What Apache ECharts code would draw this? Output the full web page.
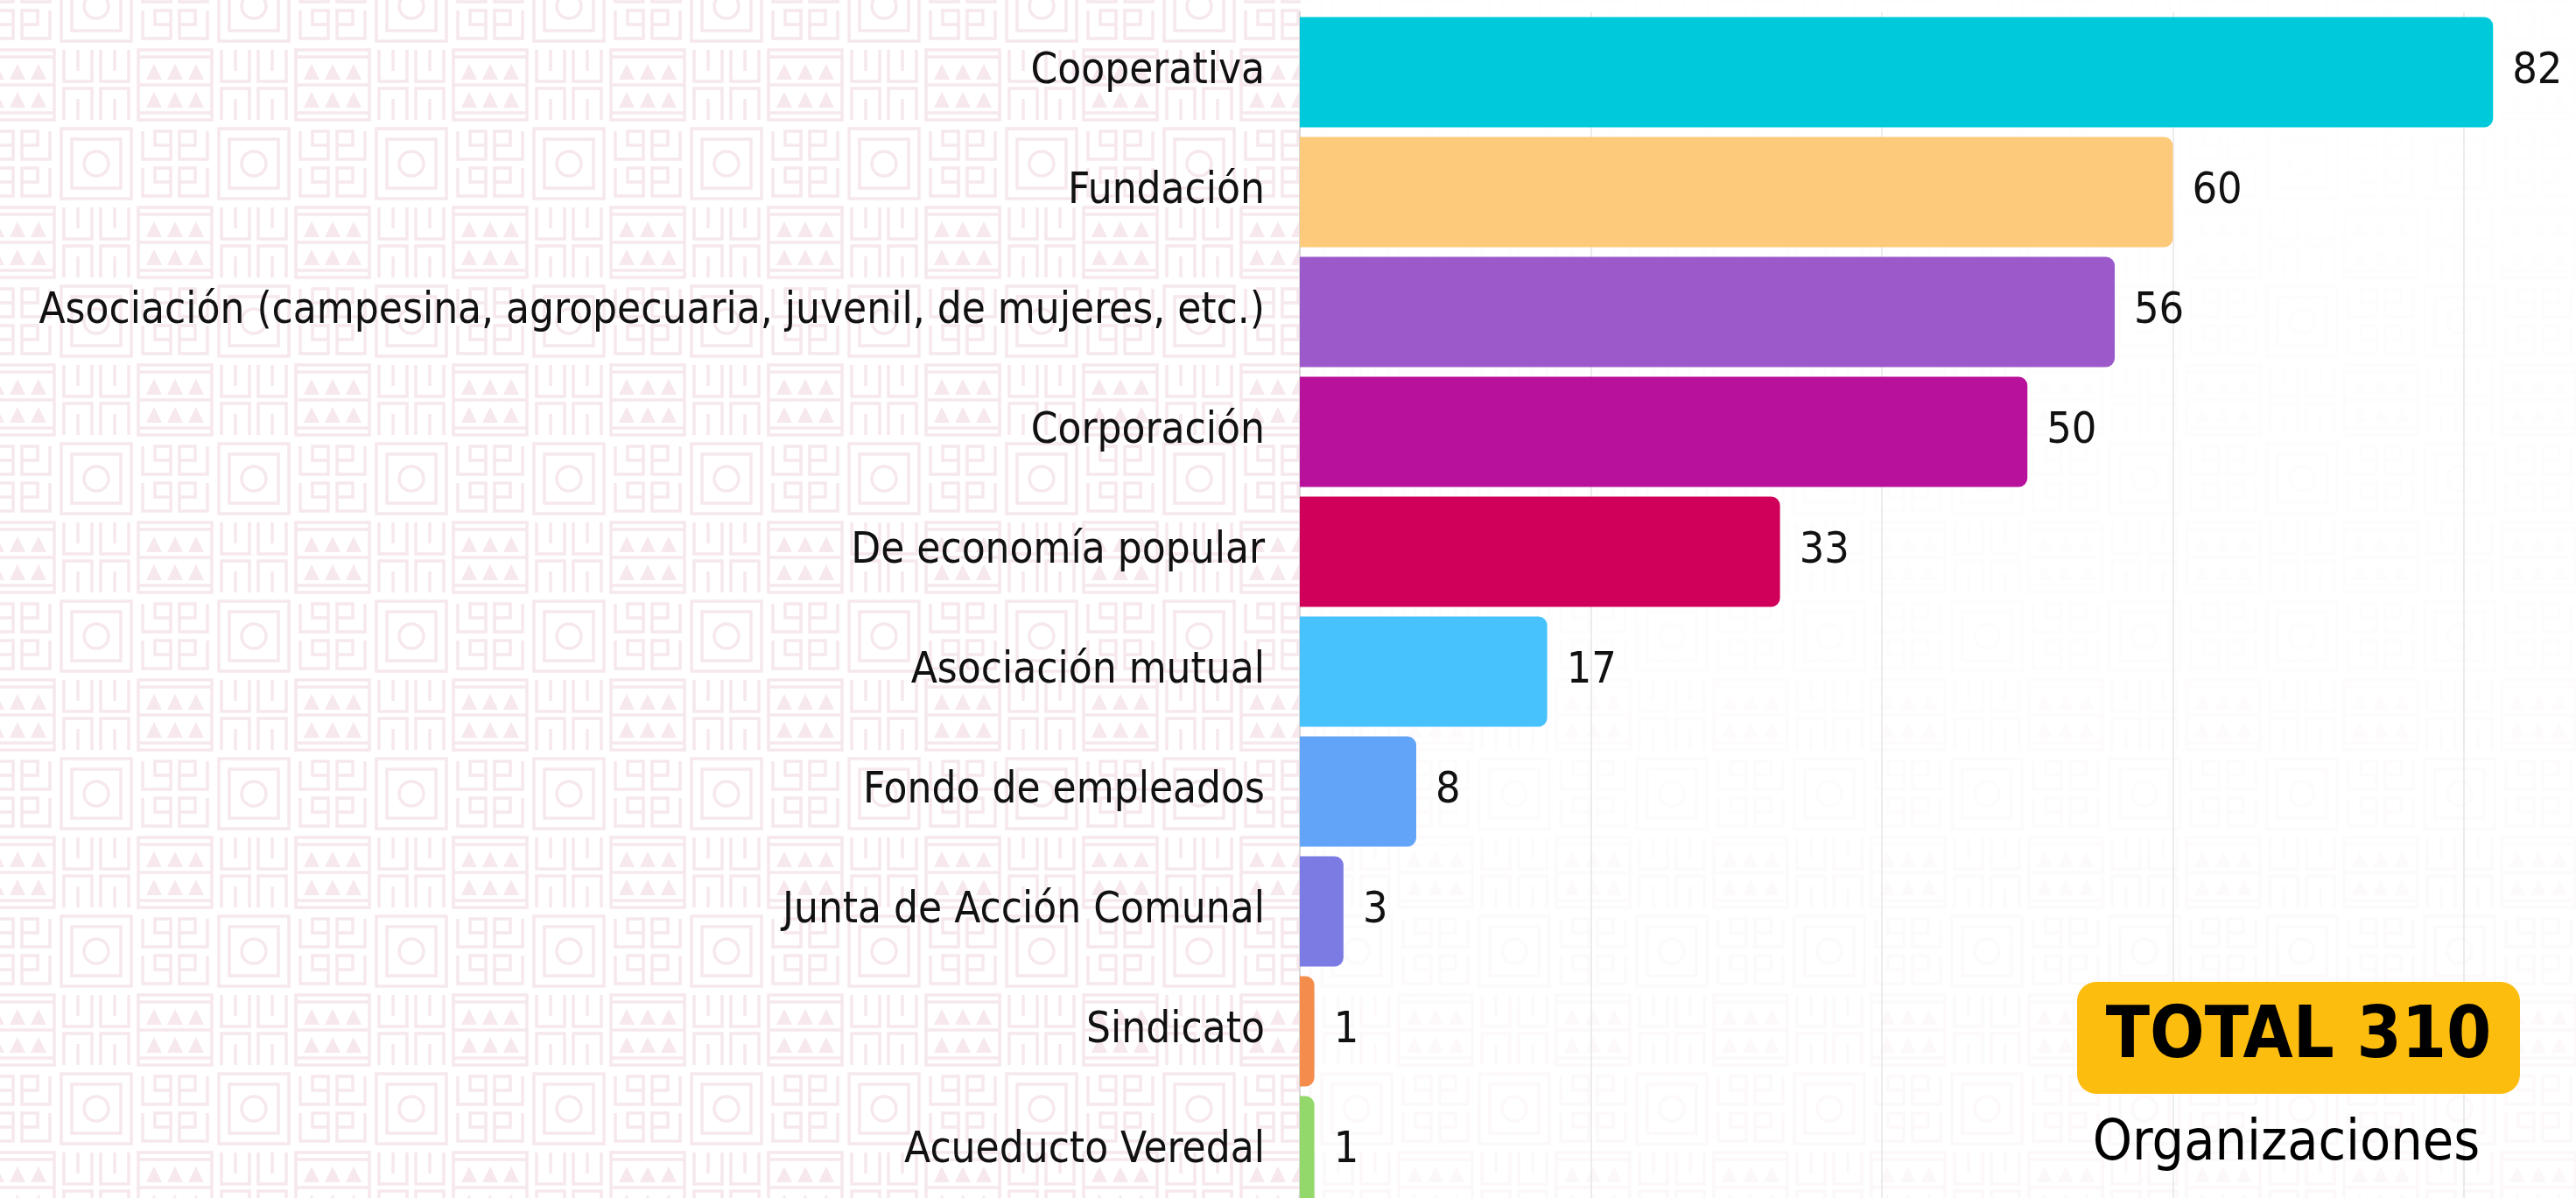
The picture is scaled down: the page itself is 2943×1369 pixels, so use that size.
<!DOCTYPE html>
<html>
<head>
<meta charset="utf-8">
<title>Organizaciones por tipo</title>
<script src="https://cdn.jsdelivr.net/npm/echarts@6/dist/echarts.min.js"></script>
<style>
  html, body { margin: 0; padding: 0; background: #fff; }
  #chart { width: 2943px; height: 1369px; }
</style>
</head>
<body>
<div id="chart"></div>
<script>
var categories = [
  "Cooperativa",
  "Fundación",
  "Asociación (campesina, agropecuaria, juvenil, de mujeres, etc.)",
  "Corporación",
  "De economía popular",
  "Asociación mutual",
  "Fondo de empleados",
  "Junta de Acción Comunal",
  "Sindicato",
  "Acueducto Veredal"
];
var values = [82, 60, 56, 50, 33, 17, 8, 3, 1, 1];
var barColors = [
  "#00c9db", "#fdca7b", "#9b59c9", "#b8119b", "#d0005a",
  "#48c2fc", "#62a4f7", "#7b7be3", "#f48c4c", "#92d86a"
];
var totalText = "TOTAL 310";
var totalCaption = "Organizaciones";

var FONT = "'DejaVu Sans Condensed', 'DejaVu Sans', sans-serif";

// background tile: light pink geometric pattern
function makeTile() {
  var S = 180;
  var c = document.createElement("canvas");
  c.width = S; c.height = S;
  var g = c.getContext("2d");
  g.fillStyle = "#ffffff";
  g.fillRect(0, 0, S, S);
  g.strokeStyle = "#f6e8ed";
  g.fillStyle = "#f6e8ed";
  g.lineWidth = 3.5;

  function each(cx, cy, fn) {
    for (var dx = -S; dx <= S; dx += S) {
      for (var dy = -S; dy <= S; dy += S) fn(cx + dx, cy + dy);
    }
  }
  function line(pts) {
    g.beginPath();
    g.moveTo(pts[0][0], pts[0][1]);
    for (var i = 1; i < pts.length; i++) g.lineTo(pts[i][0], pts[i][1]);
    g.stroke();
  }

  // square with circle
  each(110, 7, function (x, y) {
    g.strokeRect(x - 40, y - 40, 80, 80);
    g.strokeRect(x - 28, y - 28, 56, 56);
    g.beginPath(); g.arc(x, y, 14, 0, Math.PI * 2); g.stroke();
  });
  // triangle block
  each(20, 97, function (x, y) {
    g.strokeRect(x - 42, y - 40, 84, 80);
    line([[x - 42, y - 32], [x + 42, y - 32]]);
    line([[x - 42, y], [x + 42, y]]);
    line([[x - 42, y + 32], [x + 42, y + 32]]);
    [-24, 0, 24].forEach(function (o) {
      g.beginPath();
      g.moveTo(x + o - 9, y - 6); g.lineTo(x + o, y - 24); g.lineTo(x + o + 9, y - 6);
      g.closePath(); g.fill();
      g.beginPath();
      g.moveTo(x + o - 9, y + 26); g.lineTo(x + o, y + 8); g.lineTo(x + o + 9, y + 26);
      g.closePath(); g.fill();
    });
  });
  // hooks
  each(20, 7, function (x, y) {
    [[-21, -21, 1], [21, -21, -1], [-21, 21, 1], [21, 21, -1]].forEach(function (h) {
      var hx = x + h[0], hy = y + h[1], d = h[2];
      line([[hx + 16 * d, hy], [hx - 2 * d, hy], [hx - 2 * d, hy - 16], [hx + 16 * d, hy - 16],
            [hx + 16 * d, hy + 16], [hx - 16 * d, hy + 16], [hx - 16 * d, hy - 16]]);
    });
  });
  // vertical u pairs
  each(110, 97, function (x, y) {
    [-21, 21].forEach(function (o) {
      var ux = x + o;
      line([[ux - 16, y - 40], [ux - 16, y - 4], [ux + 16, y - 4], [ux + 16, y - 40]]);
      line([[ux, y - 40], [ux, y - 16]]);
      line([[ux - 16, y + 40], [ux - 16, y + 4], [ux + 16, y + 4], [ux + 16, y + 40]]);
      line([[ux, y + 40], [ux, y + 16]]);
    });
  });
  return c;
}

var barData = values.map(function (v, i) {
  return { value: v, itemStyle: { color: barColors[i] } };
});

var chart = echarts.init(document.getElementById("chart"));
chart.setOption({
  backgroundColor: { image: makeTile(), repeat: "repeat" },
  animation: false,
  grid: {
    left: 1485,
    top: 14,
    width: 1463,
    height: 1370,
    outerBoundsMode: "none",
    containLabel: false
  },
  xAxis: {
    type: "value",
    min: 0,
    max: 88,
    interval: 20,
    axisLabel: { show: false },
    axisLine: { show: false },
    axisTick: { show: false },
    splitLine: { show: true, lineStyle: { color: "#e6e6e6", width: 1.5 } }
  },
  yAxis: {
    type: "category",
    inverse: true,
    data: categories,
    axisTick: { show: false },
    axisLine: { show: true, lineStyle: { color: "#d8d8d8", width: 2 } },
    axisLabel: {
      margin: 40,
      fontSize: 49,
      color: "#111",
      fontFamily: FONT
    }
  },
  graphic: [
    {
      type: "rect",
      z: -10,
      shape: { x: 1486, y: 0, width: 1457, height: 1369 },
      style: {
        fill: new echarts.graphic.LinearGradient(0, 0, 0, 1, [
          { offset: 0, color: "rgba(255,255,255,0.97)" },
          { offset: 0.45, color: "rgba(255,255,255,0.9)" },
          { offset: 1, color: "rgba(255,255,255,0.7)" }
        ])
      }
    },
    {
      type: "rect",
      z: 10,
      shape: { x: 2373, y: 1122, width: 506, height: 128, r: 22 },
      style: { fill: "#fdbd0f" }
    },
    {
      type: "text",
      z: 11,
      x: 2626,
      y: 1187,
      style: {
        text: totalText,
        fill: "#000",
        font: "bold 82px " + FONT,
        align: "center",
        verticalAlign: "middle"
      }
    },
    {
      type: "text",
      z: 11,
      x: 2612,
      y: 1308,
      style: {
        text: totalCaption,
        fill: "#000",
        font: "64px " + FONT,
        align: "center",
        verticalAlign: "middle"
      }
    }
  ],
  series: [
    {
      type: "bar",
      data: barData,
      barCategoryGap: "8%",
      itemStyle: { borderRadius: [0, 10, 10, 0] },
      label: {
        show: true,
        position: "right",
        distance: 22,
        fontSize: 50,
        color: "#111",
        fontFamily: FONT
      }
    }
  ]
});
</script>
</body>
</html>
